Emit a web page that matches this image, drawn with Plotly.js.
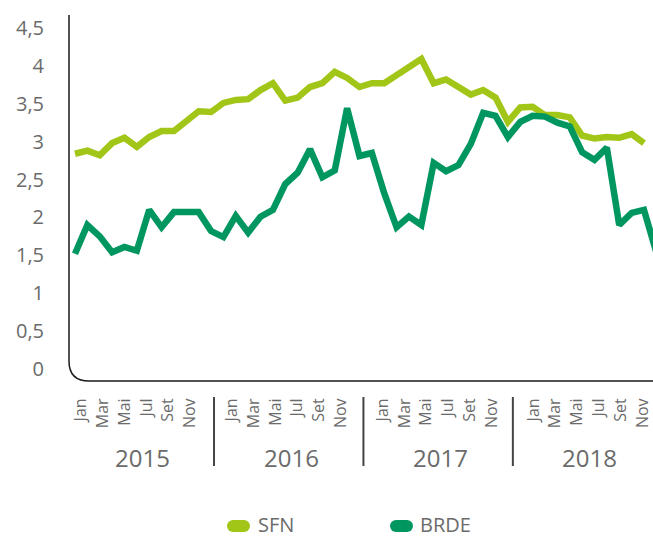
<!DOCTYPE html>
<html>
<head>
<meta charset="utf-8">
<script src="https://cdn.plot.ly/plotly-3.0.1.min.js"></script>
<style>html,body{margin:0;padding:0;background:#fff}#chart{width:653px;height:538px}</style>
</head>
<body>
<div id="chart"></div>
<script>
// ---- data ----
const monthNames = ['Jan','Fev','Mar','Abr','Mai','Jun','Jul','Ago','Set','Out','Nov','Dez'];
const years = ['2015','2016','2017','2018'];
const tickMonths = ['Jan','Mar','Mai','Jul','Set','Nov'];
const seriesNames = ['SFN', 'BRDE'];
const seriesColors = ['#a2c617', '#009660'];

// SFN, monthly Jan 2015 – Dez 2018 (Dez 2018 not shown)
const sfn = [2.84, 2.88, 2.82, 2.98, 3.05, 2.93, 3.06, 3.14, 3.14, 3.27, 3.40, 3.39,
             3.51, 3.55, 3.56, 3.68, 3.77, 3.54, 3.58, 3.72, 3.77, 3.92, 3.84, 3.72,
             3.77, 3.77, 3.88, 3.98, 4.09, 3.77, 3.82, 3.72, 3.62, 3.68, 3.58, 3.26,
             3.45, 3.46, 3.35, 3.35, 3.32, 3.08, 3.04, 3.06, 3.05, 3.10, 2.98, null];
// BRDE, monthly Jan 2015 – Dez 2018
const brde = [1.52, 1.90, 1.75, 1.54, 1.61, 1.56, 2.10, 1.87, 2.07, 2.07, 2.07, 1.82,
              1.74, 2.02, 1.80, 2.01, 2.10, 2.44, 2.59, 2.90, 2.53, 2.62, 3.44, 2.81,
              2.85, 2.32, 1.87, 2.01, 1.90, 2.72, 2.61, 2.69, 2.97, 3.38, 3.34, 3.06,
              3.26, 3.34, 3.33, 3.25, 3.20, 2.86, 2.76, 2.92, 1.90, 2.06, 2.10, 1.54];

// ---- build ----
const months = [];
years.forEach(y => monthNames.forEach(m => months.push(m + ' ' + y)));
const xIdx = months.map((_, i) => i);

const textColor = '#6b6b6b';
const fontFam = '"Open Sans", "DejaVu Sans", sans-serif';

// plot-area geometry helpers (pixels -> paper)
const PL = 69, PW = 584, PB = 381, PH = 366;
const px = v => (v - PL) / PW;
const py = v => (PB - v) / PH;

const tickvals = [], ticktext = [];
years.forEach((y, yi) => tickMonths.forEach((m, k) => {
  tickvals.push(0.46 + 12.2 * yi + 1.77 * k);
  ticktext.push(m);
}));

const annotations = years.map((y, yi) => ({
  text: y, x: 5.42 + 12.07 * yi, xref: 'x', y: py(458), yref: 'paper',
  xanchor: 'center', yanchor: 'middle', showarrow: false,
  font: {family: fontFam, size: 24, color: textColor}
}));

const shapes = [];
for (let k = 0; k < 3; k++) {
  shapes.push({type: 'line', xref: 'x', yref: 'paper',
    x0: 11.24 + 12.08 * k, x1: 11.24 + 12.08 * k, y0: py(466), y1: py(397),
    line: {color: '#444', width: 2}});
}
// axis frame with rounded corner
const rx = 20 / PW, ry = 20 / PH;
shapes.push({type: 'path', xref: 'paper', yref: 'paper',
  path: `M 0 1 L 0 ${ry} Q 0 0 ${rx} 0 L 1 0`,
  line: {color: '#1a1a1a', width: 1.5}});

// custom legend: pill markers + labels
const legendPillX = [238.5, 401.5];
const legendTextX = [257, 419];
const legendPillY = 526, legendTextY = 524;
seriesNames.forEach((n, i) => {
  const common = {xref: 'paper', yref: 'paper', xsizemode: 'pixel', ysizemode: 'pixel',
                  xanchor: px(legendPillX[i]), yanchor: py(legendPillY),
                  fillcolor: seriesColors[i], line: {width: 0}};
  shapes.push(Object.assign({type: 'circle', x0: -11.5, x1: 0.5, y0: -6, y1: 6}, common));
  shapes.push(Object.assign({type: 'circle', x0: -0.5, x1: 11.5, y0: -6, y1: 6}, common));
  shapes.push(Object.assign({type: 'rect', x0: -5.5, x1: 5.5, y0: -6, y1: 6}, common));
  annotations.push({text: n, x: px(legendTextX[i]), xref: 'paper', y: py(legendTextY), yref: 'paper',
    xanchor: 'left', yanchor: 'middle', showarrow: false, borderpad: 0,
    font: {family: fontFam, size: 20, color: textColor}});
});

const data = [
  {x: xIdx, y: sfn, name: seriesNames[0], type: 'scatter', mode: 'lines',
   line: {color: seriesColors[0], width: 6.5}, hoverinfo: 'skip'},
  {x: xIdx, y: brde, name: seriesNames[1], type: 'scatter', mode: 'lines',
   line: {color: seriesColors[1], width: 6.5}, hoverinfo: 'skip'}
];

const layout = {
  width: 653, height: 538,
  margin: {l: PL, r: 653 - PL - PW, t: PB - PH, b: 538 - PB, pad: 0, autoexpand: false},
  paper_bgcolor: '#fff', plot_bgcolor: '#fff',
  separators: ',.',
  font: {family: fontFam, color: textColor},
  showlegend: false,
  xaxis: {range: [-0.485, 46.73], tickvals: tickvals, ticktext: ticktext, tickangle: -90,
          tickfont: {family: fontFam, size: 16, color: textColor},
          ticks: 'outside', ticklen: 10, tickcolor: 'rgba(0,0,0,0)',
          ticklabeloverflow: 'allow', automargin: false,
          showgrid: false, zeroline: false, showline: false},
  yaxis: {range: [-0.158, 4.67], dtick: 0.5, tick0: 0, automargin: false,
          tickfont: {family: fontFam, size: 20, color: textColor},
          ticks: 'outside', ticklen: 20, tickcolor: 'rgba(0,0,0,0)',
          showgrid: false, zeroline: false, showline: false},
  annotations: annotations,
  shapes: shapes
};

Plotly.newPlot('chart', data, layout, {staticPlot: true, displayModeBar: false});
</script>
</body>
</html>
